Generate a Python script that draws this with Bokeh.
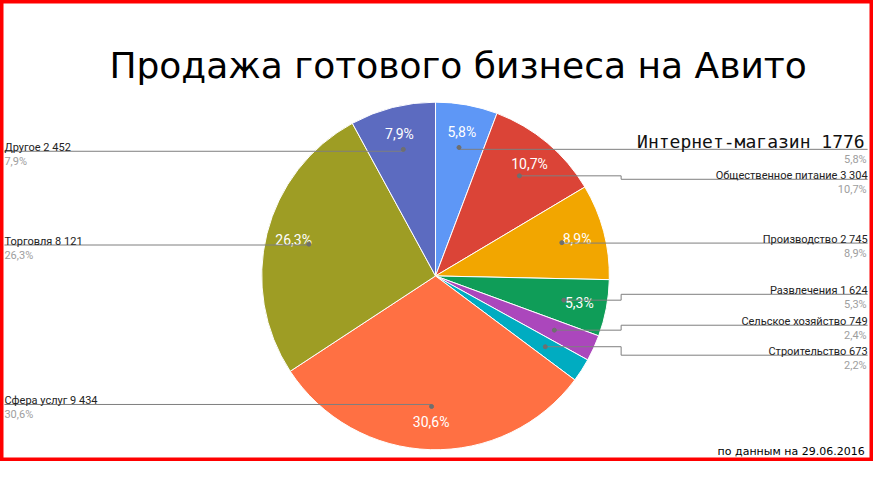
import math
from bokeh.plotting import figure
from bokeh.models import Range1d, ColumnDataSource
from bokeh.core.properties import value
from bokeh.embed import file_html
from bokeh.resources import INLINE

# ---- data ----
categories = ["Интернет-магазин", "Общественное питание", "Производство", "Развлечения",
              "Сельское хозяйство", "Строительство", "Сфера услуг", "Торговля", "Другое"]
values = [1776, 3304, 2745, 1624, 749, 673, 9434, 8121, 2452]
value_labels = ["1776", "3 304", "2 745", "1 624", "749", "673", "9 434", "8 121", "2 452"]
colors = ["#5E97F6", "#DB4437", "#F2A600", "#0F9D58", "#AB47BC", "#00ACC1",
          "#FF7043", "#9E9D24", "#5C6BC0"]
title_text = "Продажа готового бизнеса на Авито"
note_text = "по данным на 29.06.2016"

# ---- layout (reference pixel coordinates, y downwards) ----
W_REF, H_REF = 889, 477
FIG_W, FIG_H = 873, 461
CX, CY = 443, 285
R = 177
R_LABEL = 149
R_DOT = 133
side = ["r", "r", "r", "r", "r", "r", "l", "l", "l"]
line_y_ref = [154, 185, 251, 304, 336, 367, 418, 253, 156]
ELBOW_X = 632
RIGHT_X = 883
LEFT_X = 4

sx = FIG_W / W_REF
sy = FIG_H / H_REF
kyx = sx / sy


def Y(ref_y):
    return H_REF - ref_y


cy = Y(CY)

p = figure(width=FIG_W, height=FIG_H, x_range=Range1d(0, W_REF), y_range=Range1d(0, H_REF),
           output_backend="svg", toolbar_location=None, min_border=0)
p.axis.visible = False
p.grid.visible = False
p.outline_line_color = "#FF0000"
p.outline_line_width = 6
p.background_fill_color = "white"

total = sum(values)
fr = [v / total for v in values]
cum = [0.0]
for f in fr:
    cum.append(cum[-1] + f)
starts = [math.pi / 2 - 2 * math.pi * cum[i] for i in range(len(values))]
ends = [math.pi / 2 - 2 * math.pi * cum[i + 1] for i in range(len(values))]
mids = [math.pi / 2 - 2 * math.pi * (cum[i] + cum[i + 1]) / 2 for i in range(len(values))]
pct = [f"{f * 100:.1f}".replace(".", ",") + "%" for f in fr]

src = ColumnDataSource(dict(x=[CX] * len(values), y=[cy] * len(values),
                            s=starts, e=ends, c=colors))
p.wedge(x="x", y="y", radius=R, start_angle="s", end_angle="e", direction="clock",
        fill_color="c", line_color="white", line_width=1, source=src)


def pt(r, th):
    return CX + r * math.cos(th), cy + r * math.sin(th) * kyx


# in-slice percentage labels
lx, ly, lt = [], [], []
for i, f in enumerate(fr):
    if f >= 0.05:
        x, y = pt(R_LABEL, mids[i])
        lx.append(x); ly.append(y); lt.append(pct[i])
p.text(x=lx, y=ly, text=lt, text_color="white", text_font=value("Roboto"),
       text_font_size="14px", text_align="center", text_baseline="middle")

# leader lines
dx, dy = [], []
for i in range(len(values)):
    x0, y0 = pt(R_DOT, mids[i])
    dx.append(x0); dy.append(y0)
    ly_d = Y(line_y_ref[i])
    if side[i] == "r":
        if abs(y0 - ly_d) > 2:
            xs = [x0, ELBOW_X, ELBOW_X, RIGHT_X]
            ys = [y0, y0, ly_d, ly_d]
        else:
            xs = [x0, RIGHT_X]
            ys = [ly_d, ly_d]
    else:
        xs = [x0, LEFT_X]
        ys = [ly_d, ly_d]
    p.line(xs, ys, line_color="#7f7f7f", line_width=1)
p.scatter(dx, dy, size=4, fill_color="#6f6f6f", line_color="#6f6f6f")

# side labels
for i in range(len(values)):
    ly_d = Y(line_y_ref[i])
    if side[i] == "r":
        tx, al = RIGHT_X, "right"
    else:
        tx, al = LEFT_X, "left"
    name = categories[i] + " " + value_labels[i]
    if i == 0:
        p.text(x=[tx - 3], y=[ly_d + 8], text=[name], text_color="#111111",
               text_font=value("DejaVu Sans Mono"),
               text_font_size="18px", text_align=al, text_baseline="alphabetic")
    else:
        p.text(x=[tx], y=[ly_d + 4], text=[name], text_color="#222222",
               text_font=value("Roboto"), text_font_size="11px",
               text_align=al, text_baseline="alphabetic")
    p.text(x=[tx - (1 if al == "right" else 0)], y=[ly_d - 4], text=[pct[i]], text_color="#9e9e9e",
           text_font=value("Roboto"), text_font_size="11px",
           text_align=al, text_baseline="top")

# title and note
p.text(x=[466], y=[Y(67)], text=[title_text], text_color="black",
       text_font=value("DejaVu Sans"), text_font_size="36px",
       text_align="center", text_baseline="alphabetic")
p.text(x=[880], y=[Y(467)], text=[note_text], text_color="black",
       text_font=value("DejaVu Sans"), text_font_size="11px",
       text_align="right", text_baseline="alphabetic")

open("out.html", "w").write(file_html(p, INLINE))
